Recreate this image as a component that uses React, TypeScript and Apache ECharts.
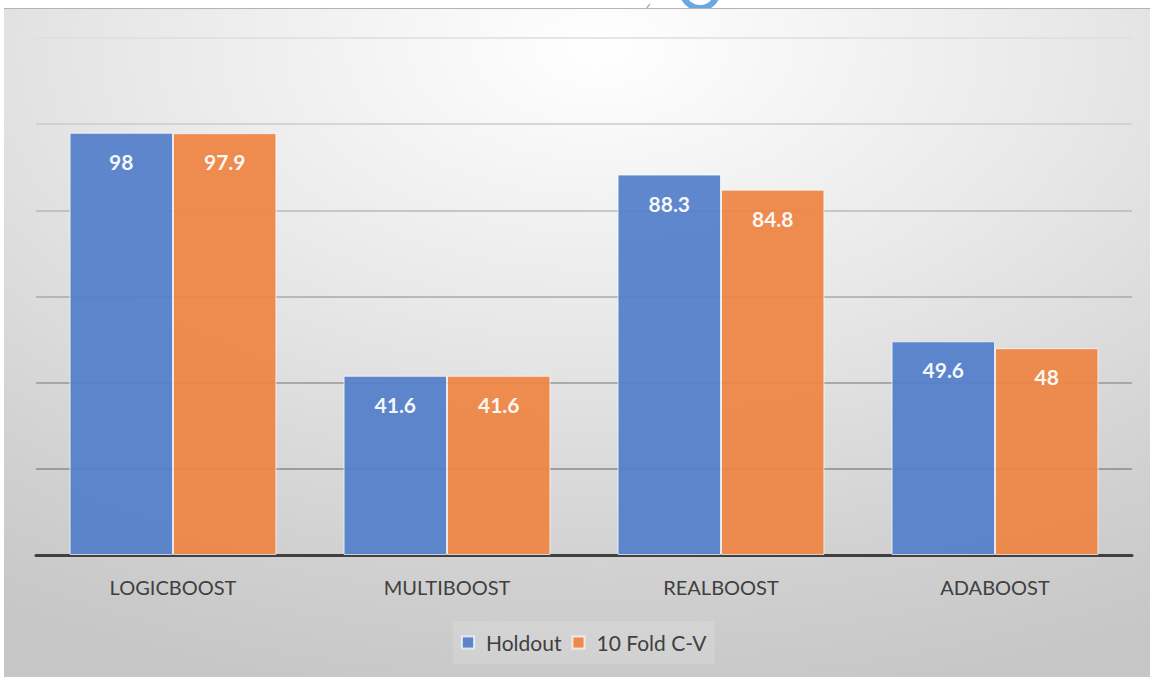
import React, { useEffect, useRef } from "react";
import * as echarts from "echarts";

const categories = ["LOGICBOOST", "MULTIBOOST", "REALBOOST", "ADABOOST"];
const holdout = [98, 41.6, 88.3, 49.6];
const tenFold = [97.9, 41.6, 84.8, 48];
const seriesNames = ["Holdout", "10 Fold C-V"];

const FONT = "Lato, 'Noto Sans', sans-serif";

export default function App() {
  const ref = useRef<HTMLDivElement>(null);

  useEffect(() => {
    if (!ref.current) return;
    const chart = echarts.init(ref.current, null, { renderer: "svg" });

    const label = {
      show: true,
      position: "insideTop",
      distance: 18,
      color: "#ffffff",
      fontSize: 21,
      fontWeight: "bold",
      fontFamily: FONT,
    };

    chart.setOption({
      animation: false,
      textStyle: { fontFamily: FONT },
      graphic: {
        elements: [
          {
            type: "arc",
            z: -20,
            shape: { cx: 700, cy: -10, r: 18, startAngle: 0.1, endAngle: Math.PI - 0.35 },
            style: { stroke: "#6aa6e6", lineWidth: 6, fill: null },
            silent: true,
          },
          {
            type: "line",
            z: -20,
            shape: { x1: 646, y1: 9, x2: 650, y2: 4 },
            style: { stroke: "#9ab8d8", lineWidth: 1.5 },
            silent: true,
          },
          {
            type: "rect",
            z: -10,
            shape: { x: 4, y: 8, width: 1146, height: 669 },
            style: {
              fill: {
                type: "radial",
                x: 0.52,
                y: 0.06,
                r: 1.0,
                colorStops: [
                  { offset: 0, color: "#ffffff" },
                  { offset: 0.4, color: "#e9e9e9" },
                  { offset: 0.8, color: "#d0d0d0" },
                  { offset: 1, color: "#c6c6c6" },
                ],
              },
            },
            silent: true,
          },
          {
            type: "line",
            z: -9,
            shape: { x1: 4, y1: 8.5, x2: 1150, y2: 8.5 },
            style: { stroke: "#b4b4b4", lineWidth: 1 },
            silent: true,
          },
        ],
      },
      grid: { left: 36, right: 22, top: 38, bottom: 122, containLabel: false },
      legend: {
        data: seriesNames,
        left: 453,
        top: 621,
        icon: "rect",
        itemWidth: 12,
        itemHeight: 12,
        itemGap: 10,
        padding: [11, 8],
        backgroundColor: "rgba(255,255,255,0.14)",
        textStyle: { fontSize: 21, color: "#404040", fontFamily: FONT, padding: [0, 0, 0, 7] },
      },
      xAxis: {
        type: "category",
        data: categories,
        axisLine: { show: true, lineStyle: { color: "#404040", width: 3 } },
        axisTick: { show: false },
        axisLabel: { color: "#404040", fontSize: 20, margin: 22, fontFamily: FONT },
      },
      yAxis: {
        type: "value",
        min: 0,
        max: 120,
        interval: 20,
        axisLine: { show: false },
        axisTick: { show: false },
        axisLabel: { show: false },
        splitLine: {
          show: true,
          lineStyle: {
            width: 1.5,
            color: ["#404040", "#8a8a8a", "#979797", "#a8a8a8", "#b9b9b9", "#cbcbcb", "#dedede"],
          },
        },
      },
      series: [
        {
          name: seriesNames[0],
          type: "bar",
          data: holdout,
          barGap: "0%",
          barCategoryGap: "24.5%",
          itemStyle: { color: "#5580cb", opacity: 0.94, borderColor: "rgba(255,255,255,0.75)", borderWidth: 1 },
          label,
        },
        {
          name: seriesNames[1],
          type: "bar",
          data: tenFold,
          itemStyle: { color: "#ee8646", opacity: 0.94, borderColor: "rgba(255,255,255,0.75)", borderWidth: 1 },
          label,
        },
      ],
    });

    return () => chart.dispose();
  }, []);

  return (
    <div
      ref={ref}
      style={{ position: "absolute", left: 0, top: 0, width: 1154, height: 677, background: "#ffffff" }}
    />
  );
}
